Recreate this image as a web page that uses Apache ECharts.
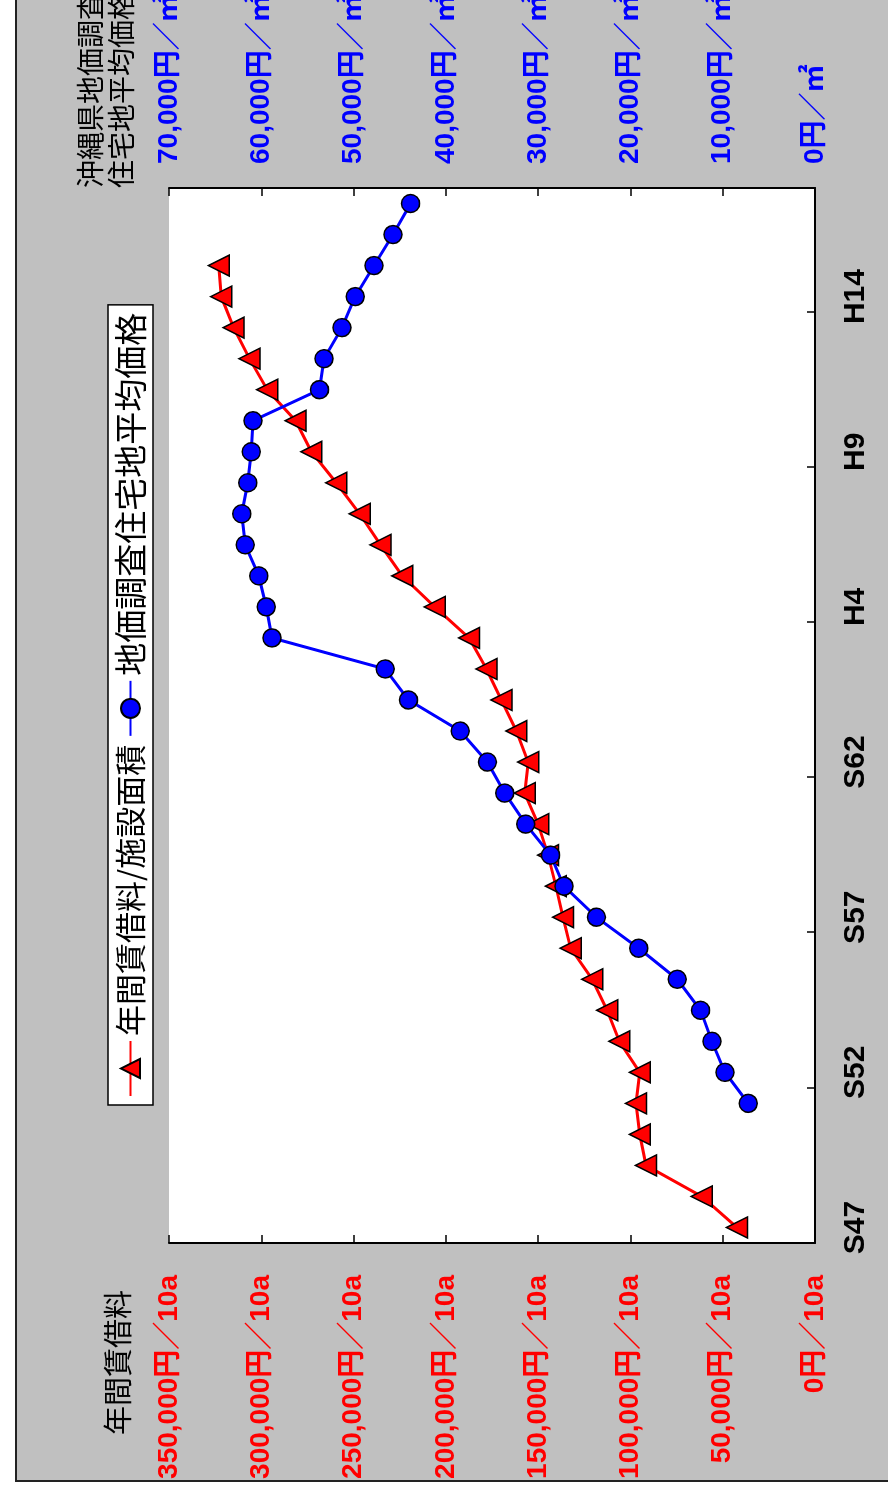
<!DOCTYPE html>
<html>
<head>
<meta charset="utf-8">
<script src="https://cdn.jsdelivr.net/npm/echarts@6/dist/echarts.min.js"></script>
<style>
  html, body { margin: 0; padding: 0; background: #ffffff; }
  #wrap { position: relative; width: 888px; height: 1494px; overflow: hidden; background: #ffffff; }
  #chart { position: absolute; left: 0; top: 0; width: 1494px; height: 888px;
           transform-origin: 0 0; transform: translateY(1494px) rotate(-90deg); }
</style>
</head>
<body>
<div id="wrap"><div id="chart"></div></div>
<script>
// Categories: fiscal years S47 (1972) .. H17 (2005)
const categories = ['S47','S48','S49','S50','S51','S52','S53','S54','S55','S56','S57','S58','S59','S60','S61','S62','S63',
                    'H1','H2','H3','H4','H5','H6','H7','H8','H9','H10','H11','H12','H13','H14','H15','H16','H17'];

// 年間賃借料/施設面積 (円/10a), S47..H15
const rentValues = [42300, 61400, 91600, 94900, 97000, 94900, 106000, 112600, 120700, 132400,
                    136500, 140400, 144600, 150000, 157300, 155400, 161800, 169900, 178000, 187400,
                    206000, 223600, 235400, 246700, 259400, 272900, 281400, 296800, 306400, 315000,
                    321700, 323000, null, null];

// 地価調査住宅地平均価格 (円/㎡), S51..H17
const landValues = [null, null, null, null,
                    7230, 9760, 11170, 12400, 14930, 19100, 23680, 27200, 28650, 31350,
                    33620, 35500, 38450, 44050, 46580, 58840, 59460, 60270, 61750, 62110,
                    61460, 61080, 60900, 53690, 53200, 51260, 49820, 47790, 45730, 43820];

const seriesNames = ['年間賃借料/施設面積', '地価調査住宅地平均価格'];
const leftAxisTitle = '年間賃借料';
const rightAxisTitle = ['沖縄県地価調査', '住宅地平均価格'];
const leftUnit = '円／10a';
const rightUnit = '円／㎡';

const NUM_FONT = "'Liberation Sans', 'Noto Sans CJK JP', sans-serif";
const JP_FONT = "'Noto Sans CJK JP', sans-serif";

const chart = echarts.init(document.getElementById('chart'), null, { renderer: 'canvas' });

function fmt(v) { return String(v).replace(/\B(?=(\d{3})+(?!\d))/g, ','); }

chart.setOption({
  animation: false,
  backgroundColor: '#ffffff',
  graphic: [
    { type: 'rect', z: -100, shape: { x: 13, y: 16, width: 1600, height: 1000 },
      style: { fill: '#c0c0c0', stroke: '#222222', lineWidth: 2 } },
    { type: 'text', z: 10, left: 59, top: 103,
      style: { text: leftAxisTitle, font: "29px 'Noto Sans CJK JP'", fill: '#000000' } },
    { type: 'text', z: 10, left: 1306, top: 75,
      style: { text: rightAxisTitle.join('\n'), font: "28px 'Noto Sans CJK JP'", lineHeight: 31, fill: '#000000' } }
  ],
  legend: {
    left: 389, top: 108,
    padding: [6, 8, 6, 8],
    itemWidth: 55, itemHeight: 24, itemGap: 8,
    backgroundColor: '#ffffff', borderColor: '#000000', borderWidth: 1.5,
    textStyle: { fontSize: 31, fontFamily: JP_FONT, color: '#000000' },
    data: [
      { name: seriesNames[0], textStyle: { fontSize: 31 } },
      { name: seriesNames[1], textStyle: { fontSize: 33 } }
    ]
  },
  grid: { left: 251, right: 188, top: 169, bottom: 73, show: true, backgroundColor: '#ffffff',
          borderWidth: 0, containLabel: false, outerBoundsMode: 'none' },
  xAxis: {
    type: 'category',
    data: categories,
    boundaryGap: true,
    axisLine: { show: true, lineStyle: { color: '#000000', width: 2 } },
    axisTick: { show: true, inside: true, length: 8, interval: 4, alignWithLabel: false,
                lineStyle: { color: '#000000', width: 1.5 } },
    axisLabel: { interval: 4, margin: 26, fontSize: 30, fontWeight: 'bold', color: '#000000', fontFamily: NUM_FONT },
    splitLine: { show: false }
  },
  yAxis: [
    {
      type: 'value', position: 'left', min: 0, max: 350000, interval: 50000,
      axisLine: { show: true, lineStyle: { color: '#000000', width: 2 } },
      axisTick: { show: true, inside: true, length: 8, lineStyle: { color: '#000000', width: 1.5 } },
      axisLabel: { margin: 32, fontSize: 28, fontWeight: 'bold', color: '#ff0000', fontFamily: NUM_FONT,
                   formatter: v => fmt(v) + leftUnit },
      splitLine: { show: false }
    },
    {
      type: 'value', position: 'right', min: 0, max: 70000, interval: 10000,
      axisLine: { show: true, lineStyle: { color: '#000000', width: 2 } },
      axisTick: { show: true, inside: true, length: 8, lineStyle: { color: '#000000', width: 1.5 } },
      axisLabel: { margin: 24, fontSize: 28, fontWeight: 'bold', color: '#0000ff', fontFamily: NUM_FONT,
                   formatter: v => fmt(v) + rightUnit },
      splitLine: { show: false }
    }
  ],
  series: [
    {
      name: seriesNames[0], type: 'line', yAxisIndex: 0, data: rentValues,
      symbol: 'triangle', symbolSize: 21, showAllSymbol: true,
      lineStyle: { color: '#ff0000', width: 3 },
      itemStyle: { color: '#ff0000', borderColor: '#000000', borderWidth: 1.5 },
      z: 3
    },
    {
      name: seriesNames[1], type: 'line', yAxisIndex: 1, data: landValues,
      symbol: 'circle', symbolSize: 18, showAllSymbol: true,
      lineStyle: { color: '#0000ff', width: 3 },
      itemStyle: { color: '#0000ff', borderColor: '#000000', borderWidth: 1.5 },
      z: 4
    }
  ]
});
</script>
</body>
</html>
